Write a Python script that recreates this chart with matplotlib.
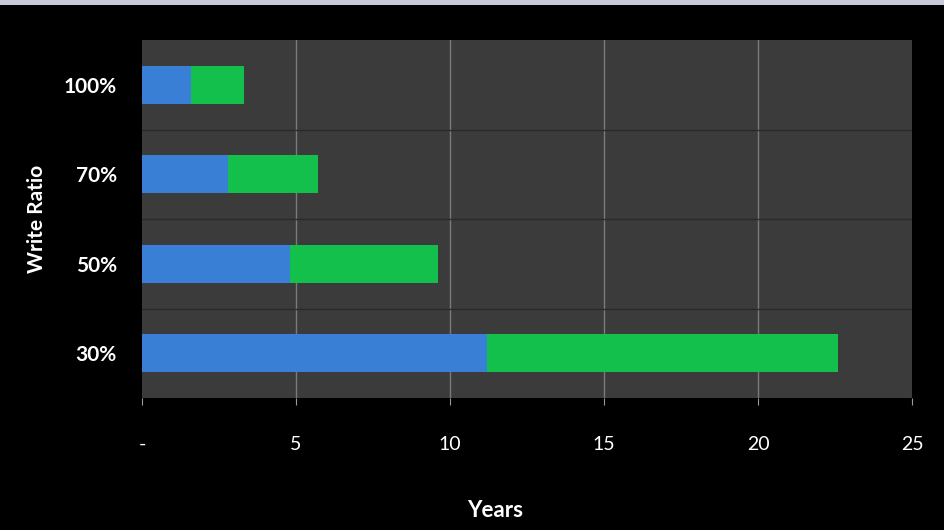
import numpy as np
import matplotlib.pyplot as plt
from matplotlib.patches import Rectangle

# data
categories = ["30%", "50%", "70%", "100%"]
blue_years = [11.2, 4.8, 2.8, 1.6]
green_years = [11.4, 4.8, 2.9, 1.7]
x_ticks = [0, 5, 10, 15, 20, 25]
x_tick_labels = ["-", "5", "10", "15", "20", "25"]

plt.rcParams['font.family'] = ['Lato', 'DejaVu Sans']

fig = plt.figure(figsize=(9.44, 5.30), dpi=100, facecolor="black")
# light band across the top
fig.patches.append(Rectangle((0, 0.99), 1, 0.01, transform=fig.transFigure,
                             facecolor="#c8cadb", edgecolor="none"))

ax = fig.add_axes([0.1504, 0.249, 0.8157, 0.6755])
ax.set_facecolor("#3b3b3b")

y = np.arange(len(categories))
ax.barh(y, blue_years, height=0.42, color="#3a7fd6", zorder=3)
ax.barh(y, green_years, left=blue_years, height=0.42, color="#14c04c", zorder=3)

ax.set_xlim(0, 25)
ax.set_ylim(-0.5, len(categories) - 0.5)
ax.set_xticks(x_ticks)
ax.set_xticklabels(x_tick_labels, color="white", fontsize=14)
ax.set_yticks(y)
ax.set_yticklabels(categories, color="white", fontsize=15, fontweight="bold")

# vertical grid
for v in x_ticks[1:-1]:
    ax.axvline(v, color="#7a7a7a", lw=1, zorder=1)
# category separators
for b in np.arange(0.5, len(categories) - 0.5):
    ax.axhline(b, color="#2a2a2a", lw=1, zorder=1)

for s in ax.spines.values():
    s.set_visible(False)
ax.tick_params(axis="x", colors="#9a9a9a", length=5, pad=22, labelcolor="white")
ax.tick_params(axis="y", length=0, pad=18)

ax.set_xlabel("Years", color="white", fontsize=16, fontweight="bold")
ax.xaxis.set_label_coords(0.458, -0.285)
ax.set_ylabel("Write Ratio", color="white", fontsize=15, fontweight="bold")
ax.yaxis.set_label_coords(-0.123, 0.5)

fig.savefig("out.png", dpi=100, facecolor="black")
